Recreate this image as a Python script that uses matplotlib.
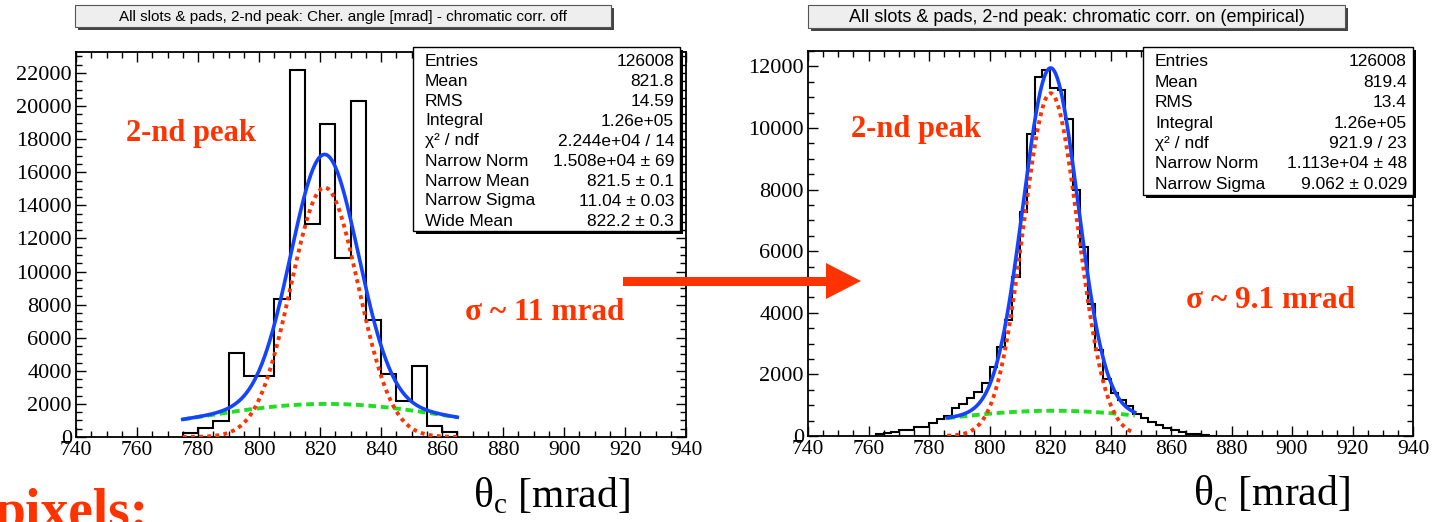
import numpy as np
import matplotlib
matplotlib.use('Agg')
import matplotlib.pyplot as plt
from matplotlib.patches import Rectangle, Polygon
from matplotlib.ticker import MultipleLocator

# ---- histogram contents ----
# left pad: chromatic correction off, 5 mrad bins
left_bin_start = 775.0
left_bin_width = 5.0
left_counts = [240, 540, 940, 5080, 3700, 3700, 8330, 22160, 12890,
               18920, 10810, 20300, 7050, 3780, 2180, 4300, 680, 280]

# right pad: chromatic correction on, 2.5 mrad bins
right_bin_start = 762.5
right_bin_width = 2.5
right_counts = [60, 100, 130, 195, 195, 300, 300, 410, 540, 660,
                900, 1040, 1220, 1440, 1710, 2250, 2900, 3770, 5170, 7280,
                9810, 11670, 11890, 11295, 11240, 10300, 8000, 6150, 4280, 2780,
                1850, 1400, 1170, 975, 715, 585, 465, 357, 260, 190,
                130, 80, 50, 30, 15]

# fit results: (norm, mean, sigma) of narrow and wide gaussians
left_fit_range = (775, 865)
left_narrow = (15080, 821.5, 11.04)
left_wide = (2000, 822.2, 42.0)
right_fit_range = (786, 848)
right_narrow = (11130, 820.2, 9.062)
right_wide = (820, 821.0, 42.0)

left_stats = [("Entries", "126008"), ("Mean", "821.8"), ("RMS", "14.59"),
              ("Integral", "1.26e+05"), ("χ² / ndf", "2.244e+04 / 14"),
              ("Narrow Norm", "1.508e+04 ± 69"), ("Narrow Mean", "821.5 ± 0.1"),
              ("Narrow Sigma", "11.04 ± 0.03"), ("Wide Mean", "822.2 ± 0.3")]
right_stats = [("Entries", "126008"), ("Mean", "819.4"), ("RMS", "13.4"),
               ("Integral", "1.26e+05"), ("χ² / ndf", "921.9 / 23"),
               ("Narrow Norm", "1.113e+04 ± 48"), ("Narrow Sigma", "9.062 ± 0.029")]

left_title = "All slots & pads, 2-nd peak: Cher. angle [mrad] - chromatic corr. off"
right_title = "All slots & pads, 2-nd peak: chromatic corr. on (empirical)"
left_sigma_note = "σ ~ 11 mrad"
right_sigma_note = "σ ~ 9.1 mrad"

RED = '#ff3300'
BLUE = '#1444ff'
GREEN = '#22dd22'
SERIF = 'Liberation Serif'
SANS = 'Liberation Sans'

plt.rcParams['mathtext.fontset'] = 'custom'
plt.rcParams['mathtext.rm'] = SERIF

W, H = 1434, 522
fig = plt.figure(figsize=(W / 100, H / 100), dpi=100)


def px_axes(l, t, r, b):
    return fig.add_axes([l / W, 1 - b / H, (r - l) / W, (b - t) / H])


def gauss(x, p):
    norm, mean, sigma = p
    return norm * np.exp(-0.5 * ((x - mean) / sigma) ** 2)


def draw_pad(ax, start, width, counts, fit_range, narrow, wide, ymax):
    counts = np.asarray(counts, dtype=float)
    edges = start + width * np.arange(len(counts) + 1)
    ax.stairs(counts, edges, baseline=0, color='k', lw=1.5, zorder=3)

    x = np.linspace(fit_range[0], fit_range[1], 400)
    ax.plot(x, gauss(x, wide), color=GREEN, lw=2.8, ls=(0, (2.0, 1.2)), zorder=4)
    ax.plot(x, gauss(x, narrow), color=RED, lw=2.8, ls=(0, (1, 1.1)), zorder=5)
    ax.plot(x, gauss(x, narrow) + gauss(x, wide), color=BLUE, lw=2.6, zorder=6)

    ax.set_xlim(740, 940)
    ax.set_ylim(0, ymax)
    ax.xaxis.set_major_locator(MultipleLocator(20))
    ax.xaxis.set_minor_locator(MultipleLocator(5))
    ax.yaxis.set_major_locator(MultipleLocator(2000))
    ax.yaxis.set_minor_locator(MultipleLocator(500))
    ax.tick_params(which='both', direction='in', top=True, right=True,
                   width=1.0, pad=3)
    ax.tick_params(axis='x', labelsize=15.5)
    ax.tick_params(axis='y', labelsize=16)
    ax.tick_params(which='major', length=7.5)
    ax.tick_params(which='minor', length=4.3)
    for lab in ax.get_xticklabels() + ax.get_yticklabels():
        lab.set_family(SERIF)
    for s in ax.spines.values():
        s.set_linewidth(1.3)


axL = px_axes(76, 52, 686, 437)
draw_pad(axL, left_bin_start, left_bin_width, left_counts,
         left_fit_range, left_narrow, left_wide, 23270)

axR = px_axes(808, 51, 1413, 436)
draw_pad(axR, right_bin_start, right_bin_width, right_counts,
         right_fit_range, right_narrow, right_wide, 12500)

# overlay in pixel coordinates for boxes, notes and the arrow
ov = fig.add_axes([0, 0, 1, 1], zorder=10)
ov.set_xlim(0, W)
ov.set_ylim(H, 0)
ov.axis('off')
ov.patch.set_alpha(0)


def title_box(x0, x1, y0, y1, text, size):
    ov.add_patch(Rectangle((x0 + 3, y0 + 3), x1 - x0, y1 - y0, fc='#444444', ec='none'))
    ov.add_patch(Rectangle((x0, y0), x1 - x0, y1 - y0, fc='#eeeeee', ec='#555555', lw=0.8))
    ov.text((x0 + x1) / 2, (y0 + y1) / 2 + 0.5, text, ha='center', va='center',
            fontsize=size, family=SANS)


def stats_box(x0, x1, y0, y1, rows, first, step):
    ov.add_patch(Rectangle((x0 + 3, y0 + 3), x1 - x0, y1 - y0, fc='k', ec='none'))
    ov.add_patch(Rectangle((x0, y0), x1 - x0, y1 - y0, fc='white', ec='k', lw=1.0))
    for i, (name, val) in enumerate(rows):
        y = first + i * step
        ov.text(x0 + 12, y, name, ha='left', va='center', fontsize=12.5, family=SANS)
        ov.text(x1 - 6, y, val, ha='right', va='center', fontsize=12.5, family=SANS)


title_box(75, 611, 5, 27, left_title, 11)
title_box(808, 1345, 5, 28, right_title, 13)
stats_box(413, 680, 47, 231, left_stats, 61, 20.0)
stats_box(1143, 1413, 47, 195, right_stats, 62, 20.4)

ov.text(191, 134, "2-nd peak", ha='center', va='center', color=RED,
        fontsize=22, fontweight='bold', family=SERIF)
ov.text(916, 129, "2-nd peak", ha='center', va='center', color=RED,
        fontsize=22, fontweight='bold', family=SERIF)
ov.text(545, 312, left_sigma_note, ha='center', va='center', color=RED,
        fontsize=22.5, fontweight='bold', family=SERIF)
ov.text(1270, 301, right_sigma_note, ha='center', va='center', color=RED,
        fontsize=22.5, fontweight='bold', family=SERIF)

# arrow between the pads
ov.add_patch(Rectangle((623, 276.5), 205, 9, fc=RED, ec='none'))
ov.add_patch(Polygon([(826, 263), (861, 281), (826, 299)], closed=True, fc=RED, ec='none'))

# axis titles
ov.text(630, 507, r'$\mathrm{θ}_\mathrm{c}$ [mrad]', ha='right', va='baseline',
        fontsize=30, family=SERIF)
ov.text(1350, 505, r'$\mathrm{θ}_\mathrm{c}$ [mrad]', ha='right', va='baseline',
        fontsize=30, family=SERIF)

# cut-off text from the slide below
ov.text(-6, 528, "pixels:", ha='left', va='baseline', color=RED,
        fontsize=40, fontweight='bold', family=SERIF)

fig.savefig('out.png', dpi=100)
